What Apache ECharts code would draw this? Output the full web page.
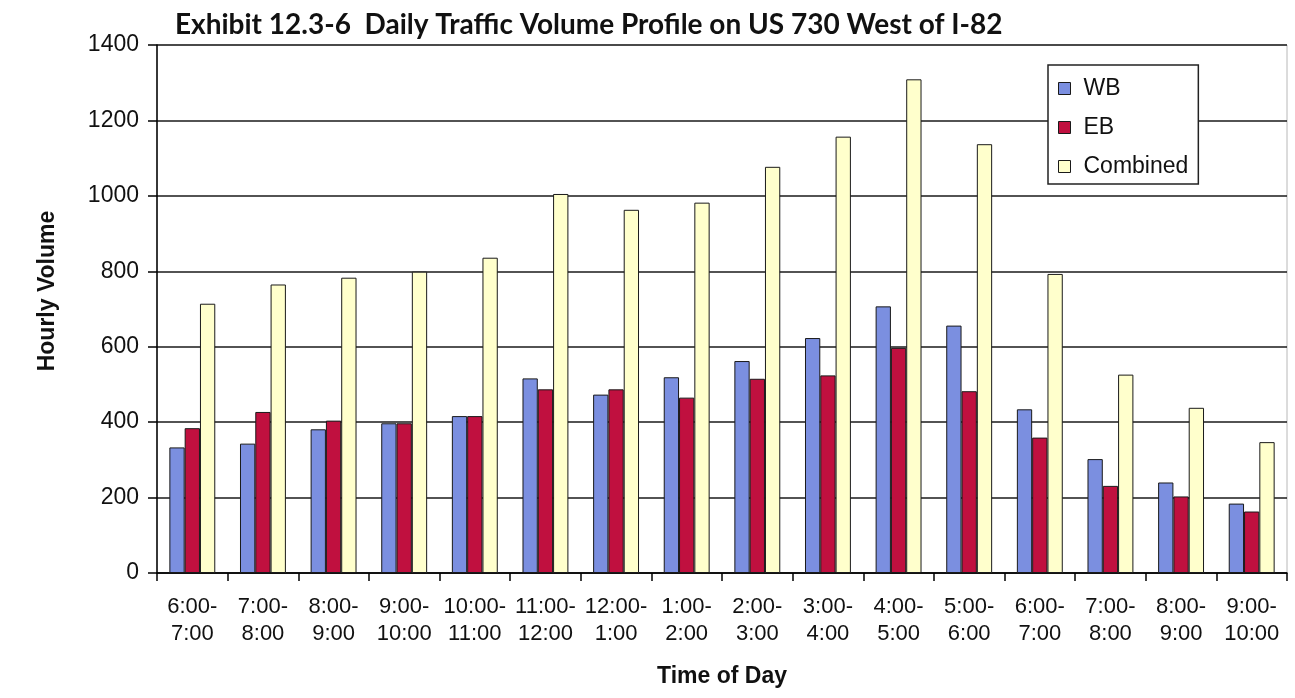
<!DOCTYPE html>
<html>
<head>
<meta charset="utf-8">
<script src="https://cdn.jsdelivr.net/npm/echarts@6/dist/echarts.min.js"></script>
<style>
html,body{margin:0;padding:0;background:#fff;}
#chart{width:1295px;height:698px;}
</style>
</head>
<body>
<div id="chart"></div>
<script>
const categories = ['6:00-\n7:00','7:00-\n8:00','8:00-\n9:00','9:00-\n10:00','10:00-\n11:00','11:00-\n12:00','12:00-\n1:00','1:00-\n2:00','2:00-\n3:00','3:00-\n4:00','4:00-\n5:00','5:00-\n6:00','6:00-\n7:00','7:00-\n8:00','8:00-\n9:00','9:00-\n10:00'];
const wbValues = [333, 343, 381, 397, 416, 516, 473, 519, 562, 623, 707, 656, 434, 302, 240, 184];
const ebValues = [384, 427, 404, 397, 416, 487, 487, 465, 515, 524, 597, 482, 359, 231, 203, 163];
const combinedValues = [714, 765, 783, 799, 836, 1005, 963, 982, 1077, 1157, 1309, 1137, 793, 526, 438, 347];
const yTicks = {min: 0, max: 1400, interval: 200};

const chart = echarts.init(document.getElementById('chart'));
const font = '"Liberation Sans", Arial, sans-serif';
const barBorder = {borderColor: '#1a1a1a', borderWidth: 1};
chart.setOption({
  animation: false,
  backgroundColor: '#fff',
  title: {
    text: 'Exhibit 12.3-6  Daily Traffic Volume Profile on US 730 West of I-82',
    left: 170, top: 6,
    textStyle: {fontFamily: 'Lato, sans-serif', fontWeight: 'bold', fontSize: 28, color: '#111'}
  },
  grid: {left: 157, right: 8, top: 45, bottom: 125, show: true, borderColor: '#b8b8b8', borderWidth: 1, backgroundColor: 'transparent'},
  legend: {
    orient: 'vertical', left: 1048, top: 65,
    padding: [12, 10, 6, 10], itemGap: 16,
    itemWidth: 12, itemHeight: 12, icon: 'rect',
    backgroundColor: '#fff', borderColor: '#222', borderWidth: 1.5,
    textStyle: {fontFamily: font, fontSize: 23, color: '#111', padding: [0, 0, 0, 8]},
    data: [
      {name: 'WB', itemStyle: {color: '#7b8fe0', borderColor: '#1a1a1a', borderWidth: 1}},
      {name: 'EB', itemStyle: {color: '#c0103f', borderColor: '#1a1a1a', borderWidth: 1}},
      {name: 'Combined', itemStyle: {color: '#ffffcc', borderColor: '#1a1a1a', borderWidth: 1}}
    ]
  },
  xAxis: {
    type: 'category', data: categories,
    name: 'Time of Day', nameLocation: 'middle', nameGap: 92,
    nameTextStyle: {fontFamily: font, fontWeight: 'bold', fontSize: 23, color: '#111'},
    axisLine: {lineStyle: {color: '#000', width: 1.5}},
    axisTick: {show: true, length: 8, lineStyle: {color: '#000', width: 1.5}},
    axisLabel: {interval: 0, margin: 20, fontFamily: font, fontSize: 22, lineHeight: 27, color: '#111'}
  },
  yAxis: {
    type: 'value', min: yTicks.min, max: yTicks.max, interval: yTicks.interval,
    name: 'Hourly Volume', nameLocation: 'middle', nameGap: 98,
    nameTextStyle: {fontFamily: font, fontWeight: 'bold', fontSize: 23, color: '#111', padding: [0, 0, 0, 36]},
    axisLine: {show: true, lineStyle: {color: '#000', width: 1.5}},
    axisTick: {show: true, length: 9, lineStyle: {color: '#000', width: 1.5}},
    axisLabel: {margin: 18, fontFamily: font, fontSize: 23, color: '#111', formatter: function (v) { return String(v); }},
    splitLine: {show: true, lineStyle: {color: '#1a1a1a', width: 1.5}}
  },
  series: [
    {name: 'WB', type: 'bar', data: wbValues, barGap: '0%', barCategoryGap: '35%', itemStyle: Object.assign({color: '#7b8fe0'}, barBorder)},
    {name: 'EB', type: 'bar', data: ebValues, barGap: '0%', barCategoryGap: '35%', itemStyle: Object.assign({color: '#c0103f'}, barBorder)},
    {name: 'Combined', type: 'bar', data: combinedValues, barGap: '0%', barCategoryGap: '35%', itemStyle: Object.assign({color: '#ffffcc'}, barBorder)}
  ]
});
</script>
</body>
</html>
